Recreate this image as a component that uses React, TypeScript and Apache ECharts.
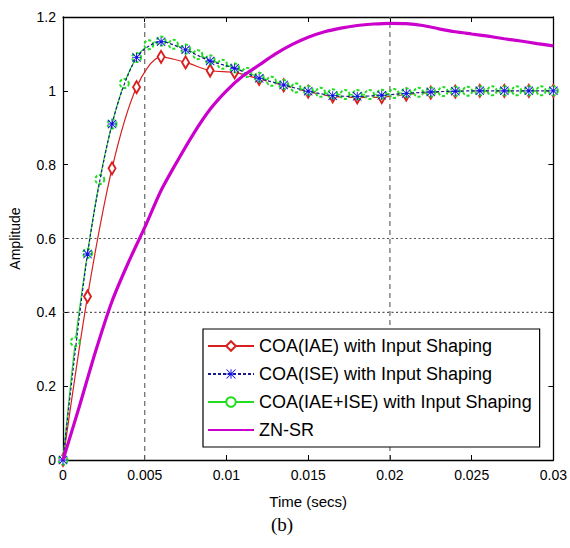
import React, { useEffect, useRef } from "react";
import * as echarts from "echarts";

const xTickLabels = ["0", "0.005", "0.01", "0.015", "0.02", "0.025", "0.03"];
const seriesNames = [
  "COA(IAE) with Input Shaping",
  "COA(ISE) with Input Shaping",
  "COA(IAE+ISE) with Input Shaping",
  "ZN-SR",
];

const timeCoarse = [0, 0.0015, 0.003, 0.0045, 0.006, 0.0075, 0.009, 0.0105, 0.012, 0.0135, 0.015, 0.0165, 0.018, 0.0195, 0.021, 0.0225, 0.024, 0.0255, 0.027, 0.0285, 0.03];
const iaeValues = [0, 0.443, 0.79, 1.01, 1.092, 1.077, 1.055, 1.05, 1.032, 1.015, 0.998, 0.985, 0.982, 0.983, 0.99, 0.995, 0.998, 1.0, 1.0, 1.0, 1.0];
const iseValues = [0, 0.558, 0.91, 1.09, 1.133, 1.111, 1.081, 1.061, 1.034, 1.016, 0.999, 0.987, 0.985, 0.988, 0.993, 0.997, 0.999, 1.0, 1.0, 1.0, 1.0];

const timeFine = [0, 0.00075, 0.0015, 0.00225, 0.003, 0.00375, 0.0045, 0.00525, 0.006, 0.00675, 0.0075, 0.00825, 0.009, 0.00975, 0.0105, 0.01125, 0.012, 0.01275, 0.0135, 0.01425, 0.015, 0.01575, 0.0165, 0.01725, 0.018, 0.01875, 0.0195, 0.02025, 0.021, 0.02175, 0.0225, 0.02325, 0.024, 0.02475, 0.0255, 0.02625, 0.027, 0.02775, 0.0285, 0.02925, 0.03];
const iaeIseValues = [0, 0.32, 0.56, 0.76, 0.91, 1.02, 1.09, 1.125, 1.135, 1.126, 1.113, 1.098, 1.084, 1.072, 1.062, 1.05, 1.037, 1.026, 1.017, 1.008, 1.001, 0.996, 0.992, 0.99, 0.99, 0.99, 0.991, 0.993, 0.995, 0.996, 0.997, 0.998, 0.999, 0.999, 1.0, 1.0, 1.0, 1.0, 1.0, 1.0, 1.0];

const timeZn = [0, 0.001, 0.002, 0.003, 0.004, 0.005, 0.006, 0.007, 0.008, 0.009, 0.01, 0.011, 0.012, 0.013, 0.014, 0.015, 0.016, 0.017, 0.018, 0.019, 0.02, 0.021, 0.022, 0.023, 0.024, 0.025, 0.026, 0.027, 0.028, 0.029, 0.03];
const znValues = [0, 0.145, 0.295, 0.43, 0.535, 0.63, 0.73, 0.81, 0.885, 0.95, 1.0, 1.04, 1.07, 1.1, 1.125, 1.145, 1.16, 1.17, 1.177, 1.181, 1.183, 1.182, 1.177, 1.168, 1.16, 1.154, 1.148, 1.141, 1.135, 1.128, 1.122];

const refTimes = [0.005, 0.02];
const refAmps = [0.4, 0.6];

const starPath =
  "path://M4.5,0h1v10h-1z M0,4.5h10v1h-10z M0,0.7L0.7,0L10,9.3L9.3,10z M9.3,0L10,0.7L0.7,10L0,9.3z";

const zip = (xs: number[], ys: number[]) => xs.map((x, i) => [x, ys[i]]);

export default function App() {
  const ref = useRef<HTMLDivElement>(null);
  useEffect(() => {
    if (!ref.current) return;
    const chart = echarts.init(ref.current, null, { renderer: "svg" });
    const font = "Arial, 'Liberation Sans', sans-serif";
    const tickStyle = { show: true, inside: true, length: 5, lineStyle: { color: "#000", width: 1 } };
    const refSeries = [
      ...refTimes.map((t) => ({
        type: "line",
        silent: true,
        data: [
          [t, 0],
          [t, 1.2],
        ],
        symbol: "none",
        lineStyle: { color: "#666", type: [5, 4], width: 1.2 },
        z: 1,
      })),
      ...refAmps.map((a) => ({
        type: "line",
        silent: true,
        data: [
          [0, a],
          [0.03, a],
        ],
        symbol: "none",
        lineStyle: { color: "#555", type: [2, 2.5], width: 1.2 },
        z: 1,
      })),
    ];
    chart.setOption({
      animation: false,
      backgroundColor: "#fff",
      textStyle: { fontFamily: font },
      grid: { left: 60, right: 12, top: 17, bottom: 88, containLabel: false },
      xAxis: [
        {
          type: "value",
          min: 0,
          max: 0.03,
          interval: 0.005,
          position: "bottom",
          name: "Time (secs)",
          nameLocation: "middle",
          nameGap: 34,
          nameTextStyle: { fontSize: 15, color: "#000", fontFamily: font },
          axisLine: { show: true, onZero: false, lineStyle: { color: "#000", width: 1.3 } },
          axisTick: tickStyle,
          axisLabel: {
            fontSize: 14,
            color: "#000",
            fontFamily: font,
            margin: 8,
            formatter: (v: number) => xTickLabels[Math.round(v / 0.005)] ?? "",
          },
          splitLine: { show: false },
        },
        {
          type: "value",
          min: 0,
          max: 0.03,
          interval: 0.005,
          position: "top",
          axisLine: { show: true, onZero: false, lineStyle: { color: "#000", width: 1.3 } },
          axisTick: tickStyle,
          axisLabel: { show: false },
          splitLine: { show: false },
        },
      ],
      yAxis: [
        {
          type: "value",
          min: 0,
          max: 1.2,
          interval: 0.2,
          position: "left",
          name: "Amplitude",
          nameLocation: "middle",
          nameGap: 41,
          nameTextStyle: { fontSize: 14, color: "#000", fontFamily: font },
          axisLine: { show: true, onZero: false, lineStyle: { color: "#000", width: 1.3 } },
          axisTick: tickStyle,
          axisLabel: { fontSize: 14, color: "#000", fontFamily: font, margin: 7 },
          splitLine: { show: false },
        },
        {
          type: "value",
          min: 0,
          max: 1.2,
          interval: 0.2,
          position: "right",
          axisLine: { show: true, onZero: false, lineStyle: { color: "#000", width: 1.3 } },
          axisTick: tickStyle,
          axisLabel: { show: false },
          splitLine: { show: false },
        },
      ],
      legend: {
        orient: "vertical",
        left: 203,
        top: 329,
        padding: [8, 8, 8, 4],
        itemGap: 10,
        itemWidth: 46,
        itemHeight: 12,
        backgroundColor: "#fff",
        borderColor: "#000",
        borderWidth: 1.2,
        textStyle: { fontSize: 18, color: "#000", fontFamily: font },
        data: [
          seriesNames[0],
          seriesNames[1],
          seriesNames[2],
          { name: seriesNames[3], itemStyle: { opacity: 0 } },
        ],
      },
      graphic: [
        {
          type: "text",
          left: 271,
          top: 515,
          style: { text: "(b)", fontSize: 19, fill: "#000", fontFamily: "'Liberation Serif', 'Times New Roman', serif" },
        },
      ],
      series: [
        {
          name: seriesNames[0],
          type: "line",
          data: zip(timeCoarse, iaeValues),
          smooth: 0.3,
          symbol: "emptyDiamond",
          symbolSize: [7, 12],
          showAllSymbol: true,
          lineStyle: { color: "#d82020", width: 1.2 },
          itemStyle: { color: "#d82020", borderWidth: 1 },
          z: 3,
        },
        {
          name: seriesNames[1],
          type: "line",
          data: zip(timeCoarse, iseValues),
          smooth: 0.3,
          symbol: starPath,
          symbolSize: 9,
          showAllSymbol: true,
          lineStyle: { color: "#1a1a90", width: 1.2, type: [3, 2] },
          itemStyle: { color: "#1010e0" },
          z: 5,
        },
        {
          name: seriesNames[2],
          type: "line",
          data: zip(timeFine, iaeIseValues),
          smooth: 0.3,
          symbol: "emptyCircle",
          symbolSize: 9,
          showAllSymbol: true,
          lineStyle: { color: "#22dd22", width: 1.2 },
          itemStyle: { color: "#22dd22", borderWidth: 1.2, borderType: [3, 2] },
          z: 4,
        },
        {
          name: seriesNames[3],
          type: "line",
          data: zip(timeZn, znValues),
          smooth: 0.25,
          symbol: "none",
          lineStyle: { color: "#cc00cc", width: 3.2 },
          itemStyle: { color: "#cc00cc" },
          z: 6,
        },
        ...refSeries,
      ],
    });
    return () => chart.dispose();
  }, []);
  return (
    <div
      ref={ref}
      style={{ position: "absolute", left: 0, top: 0, width: 570, height: 548, background: "#fff" }}
    />
  );
}
